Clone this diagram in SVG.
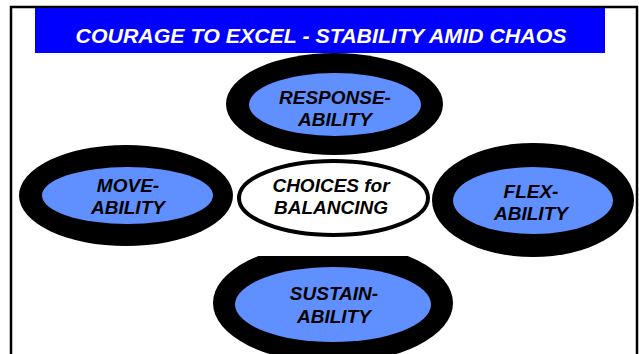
<svg xmlns="http://www.w3.org/2000/svg" width="639" height="354" viewBox="0 0 639 354">
<style>
.ring{fill:#000}
.core{fill:#6090FF}
.lbl{font-family:"Liberation Sans",Arial,sans-serif;font-weight:bold;font-style:italic;font-size:19px;fill:#000;text-anchor:middle}
.title{font-family:"Liberation Sans",Arial,sans-serif;font-weight:bold;font-style:italic;font-size:21px;fill:#fff;text-anchor:middle}
</style>
<defs>
<clipPath id="cb"><rect x="0" y="256" width="639" height="98"/></clipPath>
</defs>
<rect x="0" y="0" width="639" height="354" fill="#fff"/>
<rect x="11" y="7" width="626" height="380" fill="none" stroke="#000" stroke-width="2.5"/>
<g id="title">
<rect x="35" y="8" width="570" height="45" fill="#0000FF"/>
<text class="title" x="321" y="43" textLength="491" lengthAdjust="spacingAndGlyphs">COURAGE TO EXCEL -  STABILITY AMID CHAOS</text>
</g>
<g id="connectors"></g>
<g id="response">
<ellipse class="ring" cx="334.5" cy="104" rx="108.5" ry="51"/>
<ellipse class="core" cx="335" cy="104.5" rx="86" ry="31.5"/>
<text class="lbl" x="335" y="104"><tspan x="335">RESPONSE-</tspan><tspan x="335" dy="21.5">ABILITY</tspan></text>
</g>
<g id="move">
<ellipse class="ring" cx="126" cy="195.5" rx="107" ry="50.5"/>
<ellipse class="core" cx="127.5" cy="195.5" rx="85.5" ry="28.5"/>
<text class="lbl" x="128" y="192"><tspan x="128">MOVE-</tspan><tspan x="128" dy="21.5">ABILITY</tspan></text>
</g>
<g id="flex">
<ellipse class="ring" cx="533" cy="200" rx="101" ry="57"/>
<ellipse class="core" cx="533" cy="200.5" rx="80" ry="33.5"/>
<text class="lbl" x="531" y="197.5"><tspan x="531">FLEX-</tspan><tspan x="531" dy="22">ABILITY</tspan></text>
</g>
<g id="choices">
<ellipse cx="333.5" cy="198" rx="94.5" ry="37" fill="#fff" stroke="#000" stroke-width="4"/>
<text class="lbl" x="331" y="192"><tspan x="331">CHOICES for</tspan><tspan x="331" dy="21.5">BALANCING</tspan></text>
</g>
<g id="sustain">
<ellipse class="ring" cx="333" cy="303" rx="120" ry="60" clip-path="url(#cb)"/>
<ellipse class="core" cx="333" cy="304.5" rx="98" ry="37.5"/>
<text class="lbl" x="334" y="300"><tspan x="334">SUSTAIN-</tspan><tspan x="334" dy="23">ABILITY</tspan></text>
</g>
</svg>
